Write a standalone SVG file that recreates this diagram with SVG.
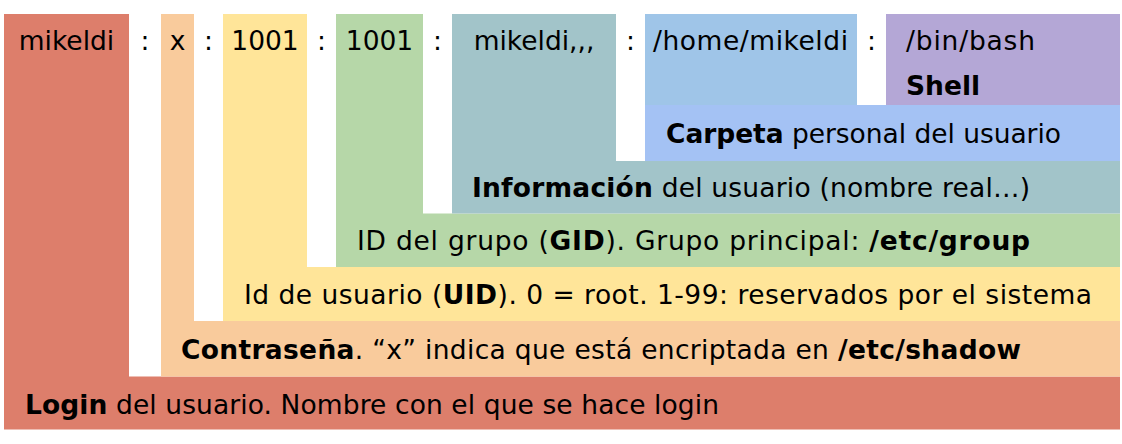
<svg xmlns="http://www.w3.org/2000/svg" width="1122" height="444" viewBox="0 0 1122 444">
  <style>
    text { font-family: "DejaVu Sans", Verdana, sans-serif; font-size: 26.5px; fill: #000; }
    .c { text-anchor: middle; }
    .b { font-weight: bold; }
    .red { fill: #DD7E6B; }
    .orange { fill: #F9CB9C; }
    .yellow { fill: #FFE599; }
    .green { fill: #B6D7A8; }
    .teal { fill: #A2C4C9; }
    .blue { fill: #9FC5E8; }
    .cblue { fill: #A4C2F4; }
    .purple { fill: #B4A7D6; }
  </style>
  <rect width="1122" height="444" fill="#ffffff"/>

  <g id="login">
    <polygon class="red" points="4,14 129,14 129,376.5 1120,376.5 1120,429.5 4,429.5"/>
    <text class="c" x="66.5" y="50">mikeldi</text>
    <text x="25" y="413.5" textLength="694" lengthAdjust="spacing"><tspan class="b">Login</tspan> del usuario. Nombre con el que se hace login</text>
  </g>

  <g id="password">
    <polygon class="orange" points="161,14 194,14 194,321 1120,321 1120,376.5 161,376.5"/>
    <text class="c" x="177.5" y="50">x</text>
    <text x="181" y="358.5" textLength="840" lengthAdjust="spacing"><tspan class="b">Contraseña</tspan>. “x” indica que está encriptada en <tspan class="b">/etc/shadow</tspan></text>
  </g>

  <g id="uid">
    <polygon class="yellow" points="223,14 307,14 307,267 1120,267 1120,321 223,321"/>
    <text class="c" x="265" y="50">1001</text>
    <text x="244" y="304" textLength="848" lengthAdjust="spacing">Id de usuario (<tspan class="b">UID</tspan>). 0 = root. 1-99: reservados por el sistema</text>
  </g>

  <g id="gid">
    <polygon class="green" points="336,14 423,14 423,213.5 1120,213.5 1120,267 336,267"/>
    <text class="c" x="379.5" y="50">1001</text>
    <text x="357" y="250" textLength="673" lengthAdjust="spacing">ID del grupo (<tspan class="b">GID</tspan>). Grupo principal: <tspan class="b">/etc/group</tspan></text>
  </g>

  <g id="info">
    <polygon class="teal" points="452,14 616,14 616,161 1120,161 1120,213.5 452,213.5"/>
    <text class="c" x="534" y="50">mikeldi,,,</text>
    <text x="472" y="196.5" textLength="558" lengthAdjust="spacing"><tspan class="b">Información</tspan> del usuario (nombre real…)</text>
  </g>

  <g id="home">
    <rect class="blue" x="645" y="14" width="212" height="91"/>
    <rect class="cblue" x="645" y="105" width="475" height="56"/>
    <text class="c" x="750.5" y="50" textLength="195" lengthAdjust="spacing">/home/mikeldi</text>
    <text x="666" y="143" textLength="395" lengthAdjust="spacing"><tspan class="b">Carpeta</tspan> personal del usuario</text>
  </g>

  <g id="shell">
    <rect class="purple" x="886" y="14" width="234" height="91"/>
    <text x="906" y="50" textLength="129" lengthAdjust="spacing">/bin/bash</text>
    <text class="b" x="906" y="95">Shell</text>
  </g>

  <g id="separators">
    <text class="c" x="145" y="50">:</text>
    <text class="c" x="208.5" y="50">:</text>
    <text class="c" x="321.5" y="50">:</text>
    <text class="c" x="437.5" y="50">:</text>
    <text class="c" x="630.5" y="50">:</text>
    <text class="c" x="871.5" y="50">:</text>
  </g>
</svg>
